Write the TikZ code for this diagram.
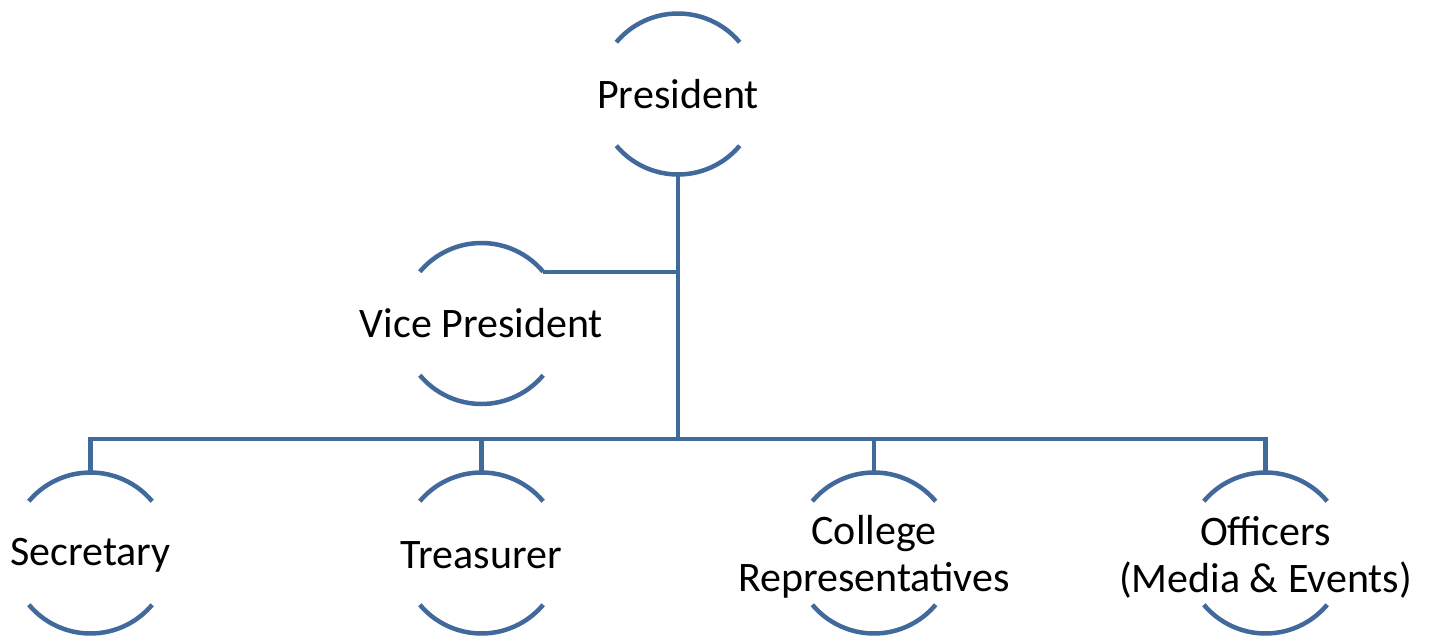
\documentclass[tikz,border=0pt]{standalone}
\usepackage{fontspec}
\setmainfont{Carlito}
\definecolor{orgblue}{RGB}{65,105,155}
\begin{document}
\begin{tikzpicture}[x=1pt,y=1pt,
  orgnode/.style={inner sep=0pt,align=center,
    font=\fontsize{42}{47}\selectfont},
  conn/.style={draw=orgblue,line width=4.5pt}]
\useasboundingbox (0,0) rectangle (1435,-639);
\coordinate (pres-c) at (678,-94);
\coordinate (vp-c) at (481.5,-323.5);
\coordinate (sec-c) at (90.5,-553);
\coordinate (tre-c) at (481.5,-553);
\coordinate (col-c) at (874,-553);
\coordinate (off-c) at (1265.5,-553);
\node[orgnode] (pres) at (pres-c) {President};
\node[orgnode] (vp) at (vp-c) {Vice President};
\node[orgnode,yshift=-2pt] (sec) at (sec-c) {Secretary};
\node[orgnode,yshift=-2pt] (tre) at (tre-c) {Treasurer};
\node[orgnode,yshift=-4pt] (col) at (col-c) {College\\Representatives};
\node[orgnode,yshift=-4pt] (off) at (off-c) {Officers\\(Media \& Events)};
\foreach \n in {pres,vp,sec,tre,col,off}{
  \path (\n-c) ++(0,80.5) coordinate (\n-n);
  \path (\n-c) ++(0,-80.5) coordinate (\n-s);
  \path (\n-c) ++(40:80.5) coordinate (\n-ne);
  \draw[conn] (\n-ne) arc[start angle=40,end angle=140,radius=80.5pt];
  \draw[conn] (\n-c) ++(220:80.5) arc[start angle=220,end angle=320,radius=80.5pt];
}
\coordinate (bus) at (678,-439);
\draw[conn] (pres-s) -- (bus);
\draw[conn] (vp-ne) -- (vp-ne -| pres-s);
\draw[conn] (sec-n) -- (sec-n |- bus) -- (off-n |- bus) -- (off-n);
\draw[conn] (tre-n) -- (tre-n |- bus);
\draw[conn] (col-n) -- (col-n |- bus);
\end{tikzpicture}
\end{document}
